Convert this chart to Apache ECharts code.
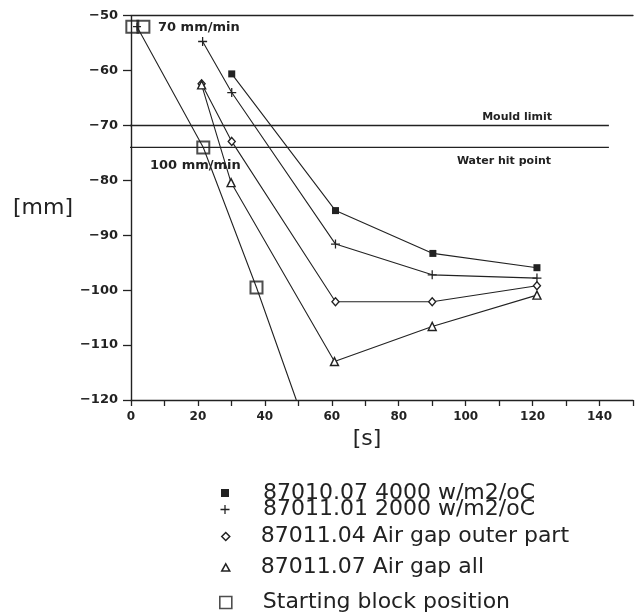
<!DOCTYPE html>
<html><head><meta charset="utf-8">
<script src="https://cdn.jsdelivr.net/npm/echarts@6/dist/echarts.min.js"></script>
<style>html,body{margin:0;padding:0;background:#fff}#c{width:636px;height:613px}</style>
</head><body><div id="c"></div>
<script>
// ---- data ----
const seriesNames = ['87010.07 4000 w/m2/oC', '87011.01 2000 w/m2/oC', '87011.04 Air gap outer part', '87011.07 Air gap all', 'Starting block position'];
const s4000 = [[30.1, -60.6], [61.1, -85.5], [90.2, -93.3], [121.3, -95.9]];
const s2000 = [[21.4, -54.7], [30.1, -64.0], [61.1, -91.6], [90.0, -97.2], [121.3, -97.8]];
const sOuter = [[21.1, -62.4], [30.1, -72.9], [61.1, -102.1], [90.0, -102.1], [121.3, -99.2]];
const sAll = [[21.1, -62.6], [29.9, -80.4], [60.8, -113.0], [90.0, -106.6], [121.3, -100.9]];
const blockMarks = [[0.4, -52], [3.7, -52], [21.6, -74], [37.5, -99.5]];
const blockLine = [[1.8, -52], [21.6, -74], [37.5, -99.5], [49.4, -120]];
const speedLabels = ['70 mm/min', '100 mm/min'];
const refNames = ['Mould limit', 'Water hit point'];
const refValues = [-70, -74];
const refSpan = [-2.8, 142.8];
const xRange = [0, 150];
const yRange = [-120, -50];
const xLabelStep = 20;

// ---- styling ----
const INK = '#222';
const PLUS = 'path://M0,4.3H10V5.7H0Z M4.3,0H5.7V10H4.3Z';
const SQ = 'path://M0,0H10V10H0Z';
const DIA = 'path://M5,0L10,5L5,10L0,5Z';
const TRI = 'path://M5,0L10,9L0,9Z';
const hollow = {color: '#fff', borderColor: INK, borderWidth: 1.4};

const chart = echarts.init(document.getElementById('c'), null, {renderer: 'canvas'});

function dataLine(name, data, symbol, size, itemStyle) {
  return {
    type: 'line', name, data, symbol, symbolSize: size,
    itemStyle, lineStyle: {color: INK, width: 1.1}, z: 3, animation: false
  };
}

const legendIcons = [SQ, PLUS, DIA, TRI, SQ];
const legendIconS = [8, 9, 8, 8, 12];
const legendCY = [493, 509.5, 536.5, 567.5, 602.5];
const legendTextX = [263, 263, 260, 260, 262];
const legendStyles = [
  {color: INK, borderWidth: 0}, {color: INK, borderWidth: 0},
  {color: '#fff', borderColor: INK, borderWidth: 1.5},
  {color: '#fff', borderColor: INK, borderWidth: 1.5},
  {color: '#fff', borderColor: INK, borderWidth: 1.6}
];
const legends = seriesNames.map((n, i) => {
  const s = legendIconS[i];
  const padL = legendTextX[i] - (225 + s / 2 + 5);
  return {
    show: true, orient: 'horizontal', left: 225 - s / 2, top: legendCY[i] - 11, padding: 0,
    itemWidth: s, itemHeight: s, selectedMode: false,
    data: [{name: n, icon: legendIcons[i]}],
    itemStyle: legendStyles[i],
    textStyle: {fontFamily: 'DejaVu Sans', fontSize: 22, color: INK, padding: [0, 0, 0, padL]}
  };
});

const refSeries = refValues.map((v, i) => ({
  type: 'line', name: refNames[i], data: [[refSpan[0], v], [refSpan[1], v]],
  symbol: 'none', clip: false, silent: true, animation: false,
  lineStyle: {color: INK, width: 1.3}, z: 2
}));

const option = {
  backgroundColor: '#fff',
  animation: false,
  grid: {left: 131, top: 15.7, width: 511.5, height: 384.3, containLabel: false},
  legend: legends,
  xAxis: [{
    type: 'value', min: xRange[0], max: xRange[1], interval: 10, position: 'bottom',
    axisLine: {show: true, onZero: false, lineStyle: {color: INK, width: 1.4}},
    axisTick: {show: true, inside: false, length: 6, lineStyle: {color: INK, width: 1.3}},
    splitLine: {show: false},
    axisLabel: {
      margin: 11, fontFamily: 'DejaVu Sans', fontWeight: 'bold', fontSize: 12, color: INK,
      formatter: v => (v % xLabelStep === 0 ? String(v) : '')
    },
    name: '[s]', nameLocation: 'middle', nameGap: 36,
    nameTextStyle: {fontFamily: 'DejaVu Sans', fontSize: 22, color: INK, align: 'center', verticalAlign: 'middle', padding: [0, 30, 0, 0]}
  }, {
    type: 'value', min: xRange[0], max: xRange[1], position: 'top',
    axisLine: {show: true, onZero: false, lineStyle: {color: INK, width: 1.3}},
    axisTick: {show: false}, axisLabel: {show: false}, splitLine: {show: false}
  }],
  yAxis: {
    type: 'value', min: yRange[0], max: yRange[1], interval: 10,
    axisLine: {show: true, onZero: false, lineStyle: {color: INK, width: 1.4}},
    axisTick: {show: true, inside: false, length: 8, lineStyle: {color: INK, width: 1.3}},
    splitLine: {show: false},
    axisLabel: {
      margin: 13, fontFamily: 'DejaVu Sans', fontWeight: 'bold', fontSize: 13, color: INK,
      formatter: v => (v < 0 ? '\u2212' : '') + Math.abs(v)
    },
    name: '[mm]', nameLocation: 'middle', nameGap: 88, nameRotate: 0,
    nameTextStyle: {fontFamily: 'DejaVu Sans', fontSize: 22, color: INK, align: 'center', verticalAlign: 'middle'}
  },
  graphic: [
    {type: 'text', x: 158, y: 27.5, style: {text: speedLabels[0], font: 'bold 13px "DejaVu Sans"', fill: INK, align: 'left', verticalAlign: 'middle'}},
    {type: 'text', x: 150, y: 166, style: {text: speedLabels[1], font: 'bold 13px "DejaVu Sans"', fill: INK, align: 'left', verticalAlign: 'middle'}},
    {type: 'text', x: 552, y: 117, style: {text: refNames[0], font: 'bold 11px "DejaVu Sans"', fill: INK, align: 'right', verticalAlign: 'middle'}},
    {type: 'text', x: 551, y: 161, style: {text: refNames[1], font: 'bold 11px "DejaVu Sans"', fill: INK, align: 'right', verticalAlign: 'middle'}}
  ],
  series: [
    ...refSeries,
    dataLine(seriesNames[0], s4000, 'rect', 7, {color: INK}),
    dataLine(seriesNames[1], s2000, PLUS, 9, {color: INK}),
    dataLine(seriesNames[2], sOuter, 'diamond', [7, 8], hollow),
    dataLine(seriesNames[3], sAll, 'triangle', 8, hollow),
    {
      type: 'line', name: 'speed line', animation: false, z: 3,
      data: blockLine.map((p, i) => i === 0 ? {value: p, symbol: PLUS, symbolSize: 8} : {value: p, symbol: 'none'}),
      symbol: 'none', showSymbol: true, itemStyle: {color: INK},
      lineStyle: {color: INK, width: 1.1}
    },
    {
      type: 'scatter', name: seriesNames[4], data: blockMarks, symbol: 'rect', symbolSize: 12,
      itemStyle: {color: 'rgba(255,255,255,0)', borderColor: INK, borderWidth: 2}, z: 4, animation: false
    }
  ]
};
chart.setOption(option);
</script>
</body></html>
